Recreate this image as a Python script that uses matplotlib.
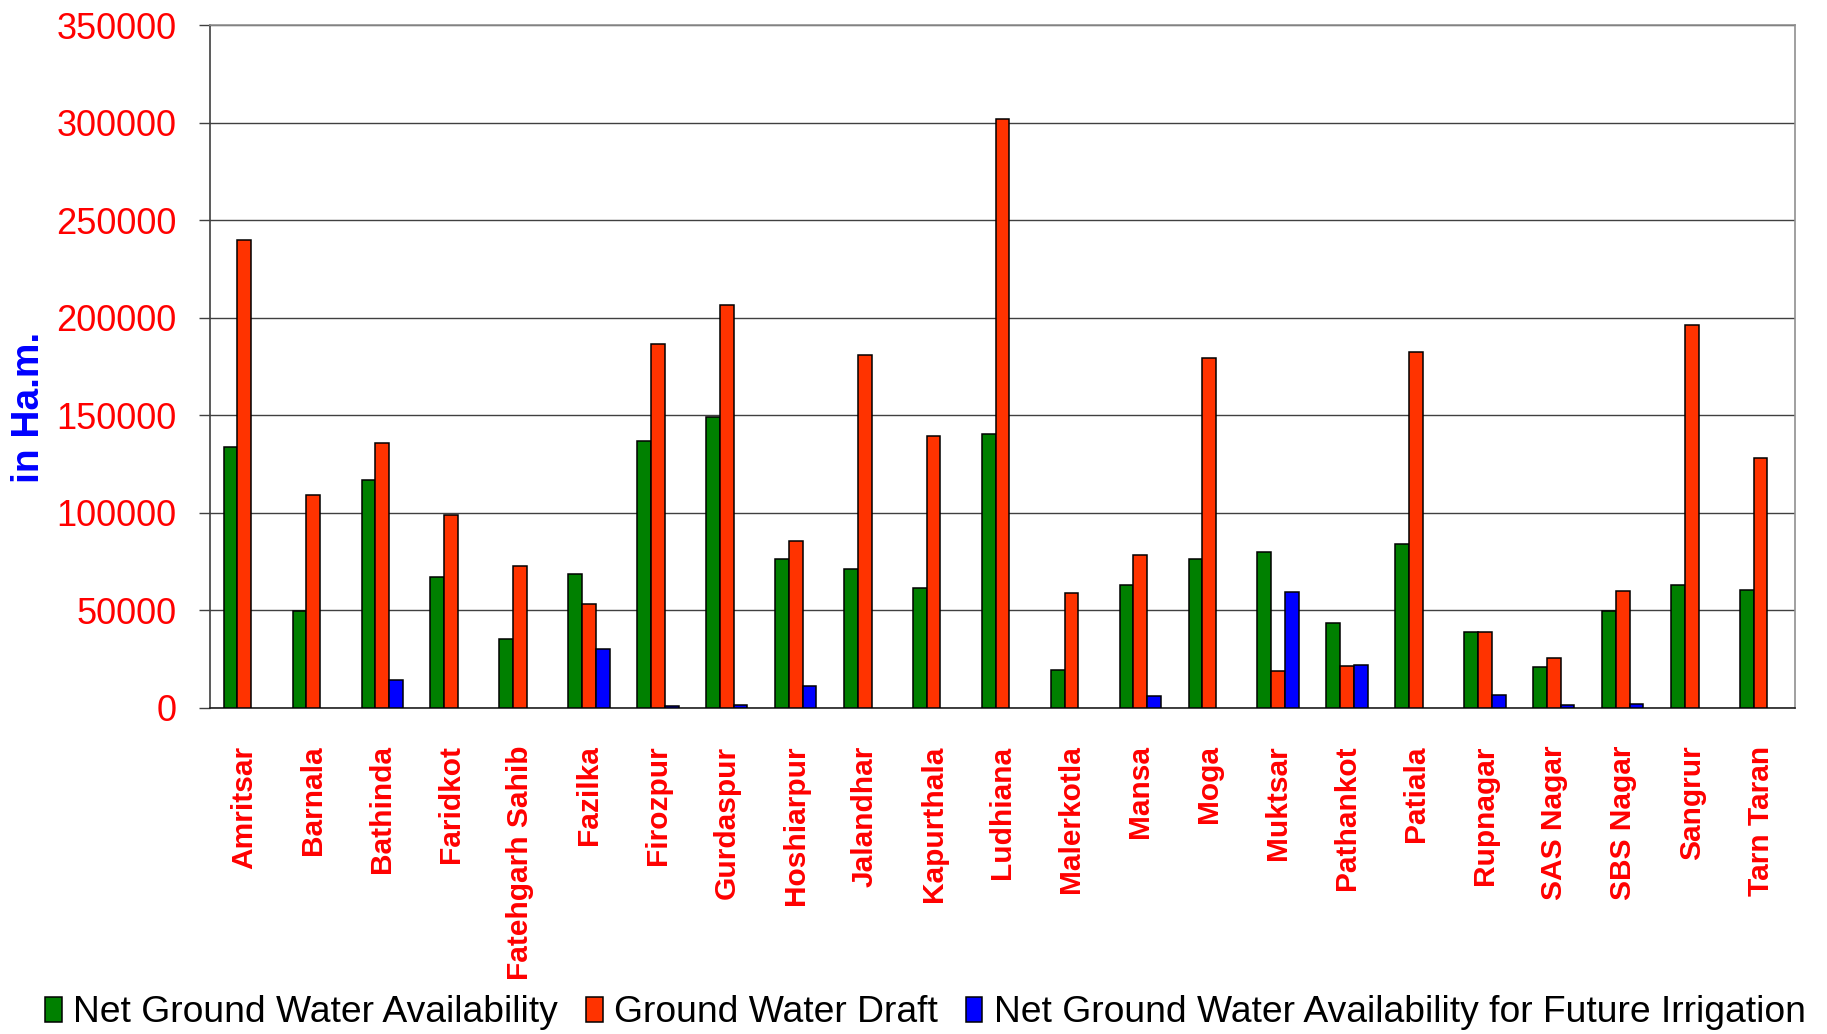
import matplotlib
matplotlib.use("Agg")
import matplotlib.pyplot as plt
from matplotlib.patches import Patch
import numpy as np

plt.rcParams['font.family'] = ['Liberation Sans', 'DejaVu Sans']

districts = ["Amritsar", "Barnala", "Bathinda", "Faridkot", "Fatehgarh Sahib",
             "Fazilka", "Firozpur", "Gurdaspur", "Hoshiarpur", "Jalandhar",
             "Kapurthala", "Ludhiana", "Malerkotla", "Mansa", "Moga", "Muktsar",
             "Pathankot", "Patiala", "Rupnagar", "SAS Nagar", "SBS Nagar",
             "Sangrur", "Tarn Taran"]

net_availability = [134000, 49500, 117000, 67100, 35300, 68500, 136900, 149200,
                    76300, 71300, 61400, 140500, 19300, 63000, 76300, 79700,
                    43500, 83900, 38700, 20800, 49500, 62900, 60600]

draft = [239700, 109100, 135600, 99100, 72700, 53200, 186500, 206300,
         85800, 181100, 139600, 301700, 58900, 78300, 179200, 19100,
         21300, 182400, 38700, 25600, 60000, 196100, 127900]

future_irrigation = [0, 0, 14500, 0, 0, 30400, 900, 1700,
                     11100, 0, 0, 0, 0, 6300, 0, 59400,
                     22000, 0, 6800, 1500, 2200, 0, 0]

series_names = ["Net Ground Water Availability", "Ground Water Draft",
                "Net Ground Water Availability for Future Irrigation"]
series_colors = ["#008000", "#FF3300", "#0000FF"]

fig = plt.figure(figsize=(18.27, 10.34), dpi=100)
ax = fig.add_axes([0.1149, 0.3153, 0.9825 - 0.1149, 0.9758 - 0.3153])

x = np.arange(len(districts))
w = 0.2
for k, (vals, col) in enumerate(zip([net_availability, draft, future_irrigation],
                                     series_colors)):
    bars = ax.bar(x + (k - 1) * w, vals, width=w, color=col, edgecolor="black",
                  linewidth=1.1, zorder=3)
    # empty values leave no outline on the baseline
    for b, v in zip(bars, vals):
        if v == 0:
            b.set_linewidth(0)

ax.set_xlim(-0.5, len(districts) - 0.5)
ax.set_ylim(0, 350000)
ax.set_yticks(np.arange(0, 350001, 50000))
ax.yaxis.grid(True, color="#404040", linewidth=1.0, zorder=0)
ax.set_axisbelow(True)

ax.tick_params(axis="y", direction="out", length=8, width=1.0, color="#404040",
               pad=16, labelsize=26, labelcolor="#FF0000")
ax.set_xticks(x)
ax.set_xticklabels(districts, rotation=90, fontsize=21.5, fontweight="bold",
                   color="#FF0000", va="top", ha="center")
ax.tick_params(axis="x", length=0, pad=27)

ax.spines["left"].set_color("#404040")
ax.spines["bottom"].set_color("#202020")
ax.spines["right"].set_color("#909090")
ax.spines["top"].set_color("#909090")
for s in ax.spines.values():
    s.set_linewidth(1.2)

fig.text(29 / 1827, 1 - 407 / 1034, "in Ha.m.", rotation=90, color="#0000FF",
         fontsize=28, fontweight="bold", ha="center", va="center")

handles = [Patch(facecolor=c, edgecolor="black", linewidth=1.1) for c in series_colors]
fig.legend(handles, series_names, loc="center", ncol=3,
           bbox_to_anchor=(0.5065, 1 - 1013 / 1034), frameon=False,
           fontsize=26.8, handlelength=0.45, handleheight=0.65,
           handletextpad=0.3, columnspacing=0.75, borderpad=0, borderaxespad=0)

fig.savefig("out.png", dpi=100, facecolor="white")
